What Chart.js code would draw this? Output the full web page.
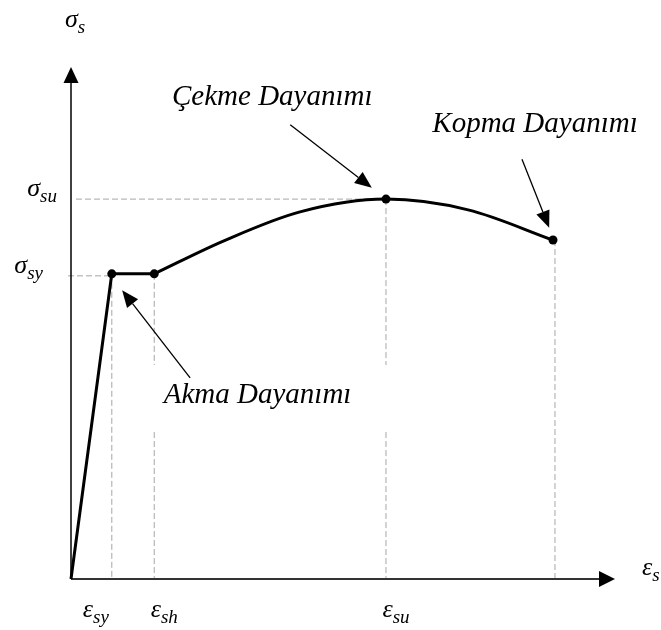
<!DOCTYPE html>
<html>
<head>
<meta charset="utf-8">
<script src="https://cdn.jsdelivr.net/npm/chart.js@4/dist/chart.umd.min.js"></script>
<style>
  html, body { margin: 0; padding: 0; background: #fff; }
  #wrap { width: 661px; height: 630px; }
</style>
</head>
<body>
<div id="wrap"><canvas id="c" width="661" height="630"></canvas></div>
<script>
// Stress–strain curve of reinforcing steel (normalised units, axis arrow tips at 100)
const elasticStrain   = [0, 7.5, 15.3];
const elasticStress   = [0, 59.6, 59.6];
const hardeningStrain = [15.3, 28.0, 42.1, 57.9, 73.0, 88.6];
const hardeningStress = [59.6, 66.0, 71.7, 74.2, 72.1, 66.2];

// Characteristic points: yield, start of hardening, ultimate, rupture
const keyStrain = [7.5, 15.3, 57.9, 88.6];
const keyStress = [59.6, 59.6, 74.2, 66.2];

// Axis symbols
const strainSubs = ['sy', 'sh', 'su'];
const stressSubs = ['su', 'sy'];
const annotationTexts = ['Akma Dayanımı', 'Çekme Dayanımı', 'Kopma Dayanımı'];

const toXY = (xs, ys) => xs.map((x, i) => ({ x: x, y: ys[i] }));

const MATH_FONT = 'italic 26px "Liberation Serif"';
const SUB_FONT = 'italic 19px "Liberation Serif"';
const NOTE_FONT = 'italic 29px "Liberation Serif"';

function drawSymbol(ctx, sym, sub, x, y, align) {
  ctx.font = MATH_FONT;
  const w1 = ctx.measureText(sym).width;
  ctx.font = SUB_FONT;
  const w2 = ctx.measureText(sub).width;
  const total = w1 + w2;
  let left = x;
  if (align === 'center') left = x - total / 2;
  if (align === 'right') left = x - total;
  ctx.textAlign = 'left';
  ctx.textBaseline = 'alphabetic';
  ctx.fillStyle = '#000';
  ctx.font = MATH_FONT;
  ctx.fillText(sym, left, y);
  ctx.font = SUB_FONT;
  ctx.fillText(sub, left + w1, y + 6);
}

function arrow(ctx, x1, y1, x2, y2, len, half, width) {
  const a = Math.atan2(y2 - y1, x2 - x1);
  const bx = x2 - len * Math.cos(a), by = y2 - len * Math.sin(a);
  ctx.lineWidth = width;
  ctx.beginPath();
  ctx.moveTo(x1, y1);
  ctx.lineTo(bx, by);
  ctx.stroke();
  ctx.beginPath();
  ctx.moveTo(x2, y2);
  ctx.lineTo(bx + half * Math.sin(a), by - half * Math.cos(a));
  ctx.lineTo(bx - half * Math.sin(a), by + half * Math.cos(a));
  ctx.closePath();
  ctx.fill();
}

// Gaps left in the vertical guides where the yield note passes
const guideGaps = [null, [28.7, 41.8], [28.7, 41.8], null];

const notes = [
  { text: annotationTexts[0], at: [34.3, 35.9], tail: [21.9, 39.3], tip: [9.4, 56.4] },
  { text: annotationTexts[1], at: [37.0, 94.1], tail: [40.3, 88.7], tip: [55.3, 76.4] },
  { text: annotationTexts[2], at: [85.3, 88.7], tail: [82.9, 82.0], tip: [87.9, 68.6] }
];

const diagramPlugin = {
  id: 'diagram',
  beforeDatasetsDraw(chart) {
    const ctx = chart.ctx;
    const X = v => chart.scales.x.getPixelForValue(v);
    const Y = v => chart.scales.y.getPixelForValue(v);
    ctx.save();

    // dashed guides
    ctx.strokeStyle = '#a6a6a6';
    ctx.lineWidth = 1;
    ctx.setLineDash([6, 3]);
    ctx.beginPath();
    ctx.moveTo(X(0) + 5, Y(keyStress[2]));
    ctx.lineTo(X(keyStrain[2]), Y(keyStress[2]));
    ctx.moveTo(X(0) - 3, Y(keyStress[0]) + 2);
    ctx.lineTo(X(keyStrain[0]), Y(keyStress[0]) + 2);
    keyStrain.forEach((s, i) => {
      const gap = guideGaps[i];
      const xp = X(s) + (i === 3 ? 2 : 0);
      if (gap) {
        ctx.moveTo(xp, Y(keyStress[i]));
        ctx.lineTo(xp, Y(gap[1]));
        ctx.moveTo(xp, Y(gap[0]));
        ctx.lineTo(xp, Y(0));
      } else {
        ctx.moveTo(xp, Y(keyStress[i]));
        ctx.lineTo(xp, Y(0));
      }
    });
    ctx.stroke();
    ctx.setLineDash([]);

    // axes with arrow heads
    ctx.fillStyle = '#000';
    ctx.strokeStyle = '#000';
    arrow(ctx, X(0), Y(0), X(0), Y(100), 16, 7.5, 1.5);
    ctx.strokeStyle = '#333';
    ctx.fillStyle = '#000';
    arrow(ctx, X(0), Y(0), X(100), Y(0), 16, 8, 2);
    ctx.restore();
  },
  afterDatasetsDraw(chart) {
    const ctx = chart.ctx;
    const X = v => chart.scales.x.getPixelForValue(v);
    const Y = v => chart.scales.y.getPixelForValue(v);
    ctx.save();
    ctx.fillStyle = '#000';
    ctx.strokeStyle = '#000';

    // annotation notes with pointers
    notes.forEach(n => {
      ctx.font = NOTE_FONT;
      ctx.textAlign = 'center';
      ctx.textBaseline = 'middle';
      ctx.fillText(n.text, X(n.at[0]), Y(n.at[1]));
      arrow(ctx, X(n.tail[0]), Y(n.tail[1]), X(n.tip[0]), Y(n.tip[1]), 17, 7, 1.3);
    });

    // axis titles
    drawSymbol(ctx, 'σ', 's', X(0) - 6, Y(100) - 40, 'left');
    drawSymbol(ctx, 'ε', 's', X(100) + 27, Y(0) - 4, 'left');

    // stress marks on the vertical axis
    drawSymbol(ctx, 'σ', stressSubs[0], X(0) - 14, Y(keyStress[2]) - 3, 'right');
    drawSymbol(ctx, 'σ', stressSubs[1], X(0) - 28, Y(keyStress[0]) - 1, 'right');

    // strain marks under the horizontal axis
    const strainOffsets = [-16, 10, 10];
    [keyStrain[0], keyStrain[1], keyStrain[2]].forEach((s, i) => {
      drawSymbol(ctx, 'ε', strainSubs[i], X(s) + strainOffsets[i], Y(0) + 38, 'center');
    });
    ctx.restore();
  }
};

new Chart(document.getElementById('c'), {
  type: 'scatter',
  data: {
    datasets: [
      {
        data: toXY(elasticStrain, elasticStress),
        showLine: true,
        borderColor: '#000',
        borderWidth: 3,
        pointRadius: 0,
        tension: 0,
        clip: false
      },
      {
        data: toXY(hardeningStrain, hardeningStress),
        showLine: true,
        borderColor: '#000',
        borderWidth: 3,
        pointRadius: 0,
        cubicInterpolationMode: 'monotone',
        clip: false
      },
      {
        data: toXY(keyStrain, keyStress),
        showLine: false,
        pointRadius: 4.5,
        pointBackgroundColor: '#000',
        pointBorderColor: '#000',
        pointBorderWidth: 0,
        clip: false
      }
    ]
  },
  options: {
    responsive: false,
    animation: false,
    events: [],
    layout: { padding: { left: 71, right: 46, top: 67, bottom: 51 } },
    plugins: { legend: { display: false }, tooltip: { enabled: false } },
    scales: {
      x: { type: 'linear', min: 0, max: 100, display: false },
      y: { type: 'linear', min: 0, max: 100, display: false }
    }
  },
  plugins: [diagramPlugin]
});
</script>
</body>
</html>
